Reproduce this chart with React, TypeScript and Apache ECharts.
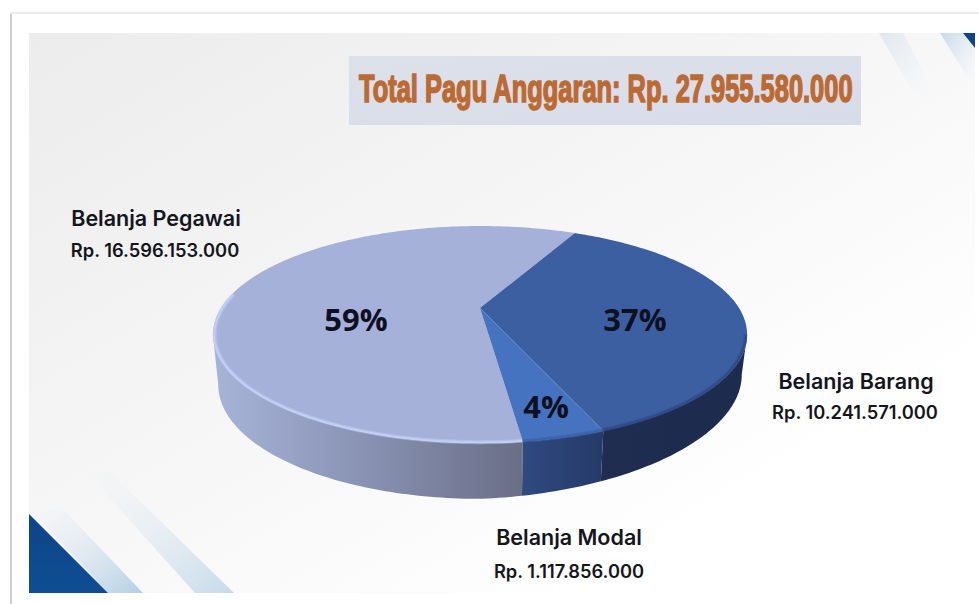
import React, { useEffect, useRef } from "react";
import * as echarts from "echarts";

const categories = ["Belanja Pegawai", "Belanja Barang", "Belanja Modal"];
const amounts = [16596153000, 10241571000, 1117856000];
const amountLabels = ["Rp. 16.596.153.000", "Rp. 10.241.571.000", "Rp. 1.117.856.000"];
const titleText = "Total Pagu Anggaran: Rp. 27.955.580.000";

const total = amounts.reduce((a, b) => a + b, 0);
const START_DEG = 172.8;
const CX = 480, CY = 308, A = 259, B = 102, K = -0.244;
const FRONT_A = 104.1, FRONT_B = 255.9;
const topColors = ["#a6b1d9", "#3c5fa2", "#4573bf"];
const rimColors = ["#c3d0f5", "#2e4a84", "#3c62a6"];
const sideColors = [
  [{ offset: 0, color: "#a7b4d9" }, { offset: 0.45, color: "#8b95b6" }, { offset: 1, color: "#6a6e87" }],
  [{ offset: 0, color: "#1e2d50" }, { offset: 1, color: "#1d2c4d" }],
  [{ offset: 0, color: "#2e4a80" }, { offset: 1, color: "#263a68" }],
];
const pctPos = [[356, 319], [635, 319], [546, 406]];
const namePos = [[156, 218], [856, 381], [569, 537]];
const amountPos = [[155, 250], [855, 412], [569, 571]];

function proj(deg: number, s = 1): [number, number] {
  const t = (deg * Math.PI) / 180;
  const u = Math.sin(t), v = -Math.cos(t);
  const w = 1 + K * v;
  return [CX + (s * A * u) / w, 334.5 + (CY + (B * v) / w - 334.5) * s];
}
function projBottom(deg: number): [number, number] {
  const [x, y] = proj(deg);
  const dx = x - CX;
  return [CX + dx * 0.98, 385 + (y - 334.5) * 1.05 - (dx > 0 ? (dx / 266) * 10 : 0)];
}
function arc(a: number, b: number, f: (d: number) => [number, number]) {
  const n = Math.max(2, Math.ceil(Math.abs(b - a)));
  const pts: [number, number][] = [];
  for (let i = 0; i <= n; i++) pts.push(f(a + ((b - a) * i) / n));
  return pts;
}

function renderSlice(params: any, api: any) {
  const i = params.dataIndex;
  let start = START_DEG;
  for (let j = 0; j < i; j++) start += (amounts[j] / total) * 360;
  const sweep = (api.value(0) / total) * 360;
  const end = start + sweep;
  const children: any[] = [];
  const ranges: [number, number][] = [];
  for (const off of [0, 360, -360]) {
    const a = Math.max(start + off, FRONT_A), b = Math.min(end + off, FRONT_B);
    if (b > a) ranges.push([a, b]);
  }
  for (const [a, b] of ranges) {
    children.push({
      type: "polygon", z2: 1,
      shape: { points: [...arc(a, b, (d) => proj(d)), ...arc(b, a, projBottom)] },
      style: { fill: { type: "linear", x: 0, y: 0, x2: 1, y2: 0, colorStops: sideColors[i] } },
    });
  }
  children.push({
    type: "polygon", z2: 3,
    shape: { points: [[CX, CY], ...arc(start, end, (d) => proj(d))] },
    style: { fill: topColors[i] },
  });
  for (const [a, b] of ranges) {
    const b2 = i === 0 ? b + 22 : b;
    children.push({
      type: "polyline", z2: 4,
      shape: { points: arc(a, b2, (d) => proj(d, 0.993)) },
      style: { stroke: rimColors[i], lineWidth: 4, fill: "none", opacity: 0.45 },
    });
    children.push({
      type: "polyline", z2: 4,
      shape: { points: arc(a, b2, (d) => proj(d, 0.995)) },
      style: { stroke: rimColors[i], lineWidth: 2, fill: "none", opacity: 0.9 },
    });
  }
  children.push({
    type: "text", z2: 6,
    x: pctPos[i][0], y: pctPos[i][1],
    style: {
      text: `${Math.round((api.value(0) / total) * 100)}%`,
      fill: "#0d1020", font: "700 31px 'Open Sans'", align: "center", verticalAlign: "middle",
    },
  });
  return { type: "group", children };
}

export default function App() {
  const ref = useRef<HTMLDivElement>(null);
  useEffect(() => {
    document.body.style.margin = "0";
    document.body.style.overflow = "hidden";
    const chart = echarts.init(ref.current!, undefined, { renderer: "svg" });
    const strip = (pts: number[][], x: number, y: number, x2: number, y2: number, from: string, to: string) => ({
      type: "polygon", silent: true,
      shape: { points: pts },
      style: { fill: new echarts.graphic.LinearGradient(x, y, x2, y2, [{ offset: 0, color: from }, { offset: 1, color: to }]) },
    });
    const graphics: any[] = [
      { type: "rect", shape: { x: 11, y: 13, width: 980, height: 600 }, style: { fill: "#ffffff", stroke: "#e6e6e6", lineWidth: 1.5 }, z: -5 },
      { type: "line", shape: { x1: 11, y1: 14, x2: 11, y2: 604 }, style: { stroke: "#cfcfcf", lineWidth: 2 }, z: -5 },
      {
        type: "rect", shape: { x: 29, y: 33, width: 946, height: 560 },
        style: { fill: new echarts.graphic.LinearGradient(0, 0, 1, 1, [
          { offset: 0, color: "#ececec" }, { offset: 0.45, color: "#f6f6f6" }, { offset: 0.8, color: "#ffffff" }, { offset: 1, color: "#ffffff" },
        ]) }, z: -4,
      },
      { ...strip([[108, 593], [143, 593], [62, 508], [32, 512]], 1, 1, 0, 0, "#b3cfe4", "rgba(240,243,246,0.2)"), z: -3 },
      { ...strip([[195, 593], [234, 593], [110, 472], [88, 474]], 1, 1, 0, 0, "#c5dbeb", "rgba(238,240,242,0.1)"), z: -3 },
      { ...strip([[29, 514], [29, 593], [108, 593]], 0, 0, 0, 1, "#0d4587", "#0e4d92"), z: -3 },
      { ...strip([[879, 33], [903, 33], [938, 100], [913, 92]], 0, 0, 1, 1, "#dde7f0", "rgba(247,248,249,0.1)"), z: -3 },
      { ...strip([[940, 33], [963, 33], [975, 48], [975, 88], [958, 62]], 0, 0, 1, 1, "#c4d9ea", "rgba(248,249,250,0.2)"), z: -3 },
      { ...strip([[963, 33], [975, 33], [975, 48]], 0, 0, 0, 1, "#0d4587", "#0d4587"), z: -2 },
      {
        type: "rect", shape: { x: 349, y: 56, width: 512, height: 69 },
        style: { fill: new echarts.graphic.LinearGradient(0, 0, 1, 1, [{ offset: 0, color: "#dde1ea" }, { offset: 1, color: "#d7dce9" }]) }, z: -1,
      },
      {
        type: "text", x: 359, y: 89, scaleX: 0.67, z: 5,
        style: {
          text: titleText, fill: "#bc6a33", stroke: "#bc6a33", lineWidth: 1.6,
          font: "700 38px 'Liberation Sans'", align: "left", verticalAlign: "middle",
        },
      },
      ...categories.map((c, i) => ({
        type: "text", x: namePos[i][0], y: namePos[i][1], z: 5,
        style: { text: c, fill: "#14161c", font: "600 21.5px Inter", align: "center", verticalAlign: "middle" },
      })),
      ...amountLabels.map((c, i) => ({
        type: "text", x: amountPos[i][0], y: amountPos[i][1], z: 5,
        style: { text: c, fill: "#14161c", font: "600 18.3px Inter", align: "center", verticalAlign: "middle" },
      })),
    ];
    chart.setOption({
      animation: false,
      backgroundColor: "#ffffff",
      graphic: graphics,
      series: [{
        type: "custom", coordinateSystem: "none", silent: true, z: 3,
        data: amounts.map((v, i) => ({ name: categories[i], value: [v] })),
        renderItem: renderSlice,
      }],
    });
    return () => chart.dispose();
  }, []);
  return <div ref={ref} style={{ position: "absolute", left: 0, top: 0, width: 979, height: 604 }} />;
}
